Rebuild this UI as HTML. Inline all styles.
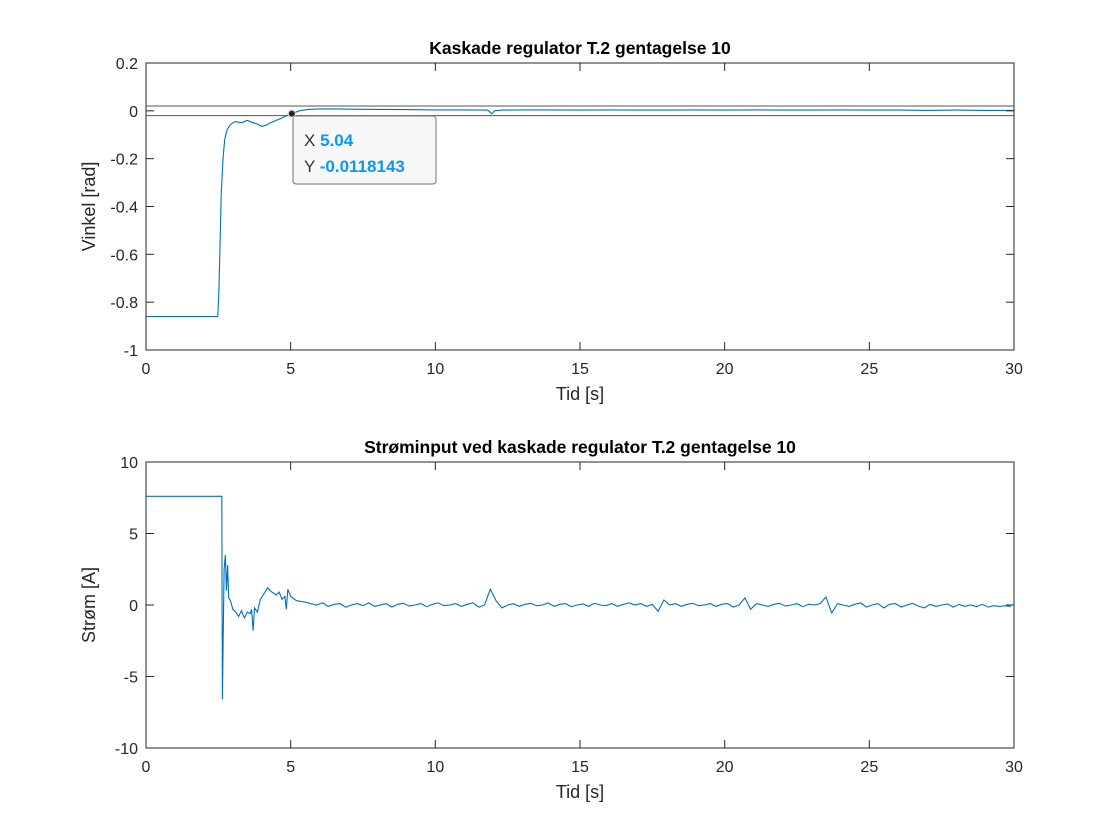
<!DOCTYPE html>
<html><head><meta charset="utf-8"><style>
body{margin:0;background:#fff;}
svg{display:block;font-family:"Liberation Sans",sans-serif;}
</style></head><body>
<svg id="fig" width="1120" height="840"></svg>
<script>
// Top chart data (angle)
const topTimes=[0,2.48,2.52,2.56,2.6,2.66,2.72,2.8,2.9,3.0,3.1,3.3,3.5,3.7,3.85,4.0,4.15,4.3,4.5,4.7,4.9,5.04,5.3,5.6,6.0,6.5,7,8,9,10,11,11.8,11.95,12.05,12.3,13,14,15,16,17,18,19,20,21,22,23,24,25,26,27,28,29,30];
const topValues=[-0.86,-0.86,-0.75,-0.55,-0.35,-0.2,-0.12,-0.08,-0.06,-0.05,-0.045,-0.05,-0.04,-0.05,-0.055,-0.065,-0.06,-0.05,-0.04,-0.03,-0.018,-0.0118,0.0,0.006,0.008,0.008,0.007,0.006,0.005,0.004,0.004,0.003,-0.012,0.0,0.003,0.004,0.004,0.003,0.004,0.003,0.003,0.004,0.003,0.004,0.003,0.003,0.004,0.003,0.003,0.002,0.003,0.002,0.002];
const topTicksY=[0.2,0,-0.2,-0.4,-0.6,-0.8,-1];
const topBand=[0.02,-0.02];
// Bottom chart data (current)
const botTimes=[0,2.62,2.64,2.70,2.74,2.78,2.82,2.86,2.92,3.0,3.1,3.2,3.3,3.4,3.5,3.6,3.65,3.7,3.75,3.85,3.95,4.05,4.2,4.35,4.5,4.6,4.7,4.8,4.85,4.9,5.0,5.2,5.5];
const botValues=[7.6,7.6,-6.6,2.5,3.5,1.0,2.8,0.5,0.3,-0.3,-0.5,-0.8,-0.4,-0.9,-0.5,-0.6,-0.3,-1.8,-0.2,-0.5,0.4,0.7,1.2,0.9,0.7,0.9,0.4,0.6,-0.3,1.1,0.6,0.3,0.2];
const noiseStart=5.7, noiseStep=0.2;
const noiseValues=[0.1,0.0,0.15,-0.1,0.05,0.1,-0.15,0.0,0.1,-0.05,0.15,-0.1,0.0,0.1,-0.15,0.05,0.12,-0.08,0.0,0.1,-0.12,0.05,0.15,-0.05,0.0,0.1,-0.1,0.05,0.15,-0.15,0.0,1.1,0.3,-0.2,0.0,0.1,-0.1,0.05,0.12,-0.05,0.0,0.15,-0.1,0.05,0.1,-0.12,0.0,0.08,-0.1,0.12,0.0,-0.05,0.1,-0.1,0.05,0.15,
0.0,0.1,-0.1,0.05,
-0.45,0.35,0.0,0.1,-0.1,0.05,0.12,-0.05,0.0,0.1,-0.1,0.05,0.1,-0.15,0.0,
0.5,-0.3,
0.1,0.0,-0.1,0.05,0.12,-0.08,0.0,0.1,-0.12,0.05,0.0,0.1,
0.55,-0.55,
0.1,0.0,-0.1,0.05,0.15,-0.15,0.0,0.1,-0.2,0.05,0.1,-0.15,0.0,0.12,-0.08,-0.2,0.05,-0.1,0.0,0.08,-0.15,0.05,-0.1,0.0,-0.12,0.05,-0.15,-0.05,-0.1,-0.05,-0.1];
const botTicksY=[10,5,0,-5,-10];
const xTicks=[0,5,10,15,20,25,30];

const NS="http://www.w3.org/2000/svg";
const svg=document.getElementById('fig');
function mk(tag,attrs,parent){const e=document.createElementNS(NS,tag);for(const k in attrs)e.setAttribute(k,attrs[k]);(parent||svg).appendChild(e);return e;}
const X0=146,X1=1014;
const xs=t=>X0+(t/30)*(X1-X0);

function axes(top,bot,ymin,ymax,yTicks,title,ylabel,prefix,times,vals){
  const ys=v=>bot-(v-ymin)/(ymax-ymin)*(bot-top);
  const g=mk('g',{});
  
  
  mk('rect',{x:X0,y:top,width:X1-X0,height:bot-top,fill:'#fff',stroke:'none'},g);
  const pts=times.map((t,i)=>xs(t).toFixed(1)+','+ys(vals[i]).toFixed(1)).join(' ');
  const line=mk('polyline',{points:pts,fill:'none',stroke:'#0072BD','stroke-width':1.1},g);
  
  
  mk('rect',{x:X0,y:top,width:X1-X0,height:bot-top,fill:'none',stroke:'#262626','stroke-width':1},g);
  xTicks.forEach(t=>{
    const x=xs(t);
    mk('line',{x1:x,x2:x,y1:bot,y2:bot-8,stroke:'#262626'},g);
    mk('line',{x1:x,x2:x,y1:top,y2:top+8,stroke:'#262626'},g);
    const tx=mk('text',{x:x,y:bot+24,'text-anchor':'middle','font-size':16,fill:'#262626'},g);
    tx.textContent=t;
    
    
  });
  yTicks.forEach(v=>{
    const y=ys(v);
    mk('line',{x1:X0,x2:X0+8,y1:y,y2:y,stroke:'#262626'},g);
    mk('line',{x1:X1,x2:X1-8,y1:y,y2:y,stroke:'#262626'},g);
    const tx=mk('text',{x:X0-8,y:y+6,'text-anchor':'end','font-size':16,fill:'#262626'},g);
    tx.textContent=v;
    
    
  });
  const tt=mk('text',{x:(X0+X1)/2,y:top-9,'text-anchor':'middle','font-size':17.5,'font-weight':'bold',fill:'#000'},g);
  tt.textContent=title;
  
  
  const xl=mk('text',{x:(X0+X1)/2,y:bot+50,'text-anchor':'middle','font-size':18,fill:'#262626'},g);
  xl.textContent='Tid [s]';
  
  
  const yl=mk('text',{x:0,y:0,'text-anchor':'middle','font-size':18,fill:'#262626',transform:`translate(95,${(top+bot)/2}) rotate(-90)`},g);
  yl.textContent=ylabel;
  
  
  return ys;
}

const ysTop=axes(63,350,-1,0.2,topTicksY,'Kaskade regulator T.2 gentagelse 10','Vinkel [rad]','angle',topTimes,topValues);
topBand.forEach(v=>{
  const l=mk('line',{x1:X0,x2:X1,y1:ysTop(v),y2:ysTop(v),stroke:'#555','stroke-width':1});
  
  
});
const bt=botTimes.slice(), bv=botValues.slice();
noiseValues.forEach((v,i)=>{bt.push(noiseStart+i*noiseStep);bv.push(v);});
axes(462,748,-10,10,botTicksY,'Strøminput ved kaskade regulator T.2 gentagelse 10','Strøm [A]','current',bt,bv);

// datatip
const dx=xs(5.04), dy=ysTop(-0.0118);
const tip=mk('g',{});


mk('rect',{x:293,y:116,width:143,height:68,rx:3,fill:'#f8f8fa',stroke:'#707070','stroke-width':1},tip);
mk('circle',{cx:dx,cy:dy,r:3.5,fill:'#222',stroke:'#ddd','stroke-width':1},tip);
const t1=mk('text',{x:304,y:146,'font-size':17,fill:'#333'},tip);
t1.innerHTML='X <tspan fill="#0A97F5" font-weight="bold">5.04</tspan>';
const t2=mk('text',{x:304,y:172,'font-size':17,fill:'#333'},tip);
t2.innerHTML='Y <tspan fill="#0A97F5" font-weight="bold">-0.0118143</tspan>';
</script>
</body></html>
